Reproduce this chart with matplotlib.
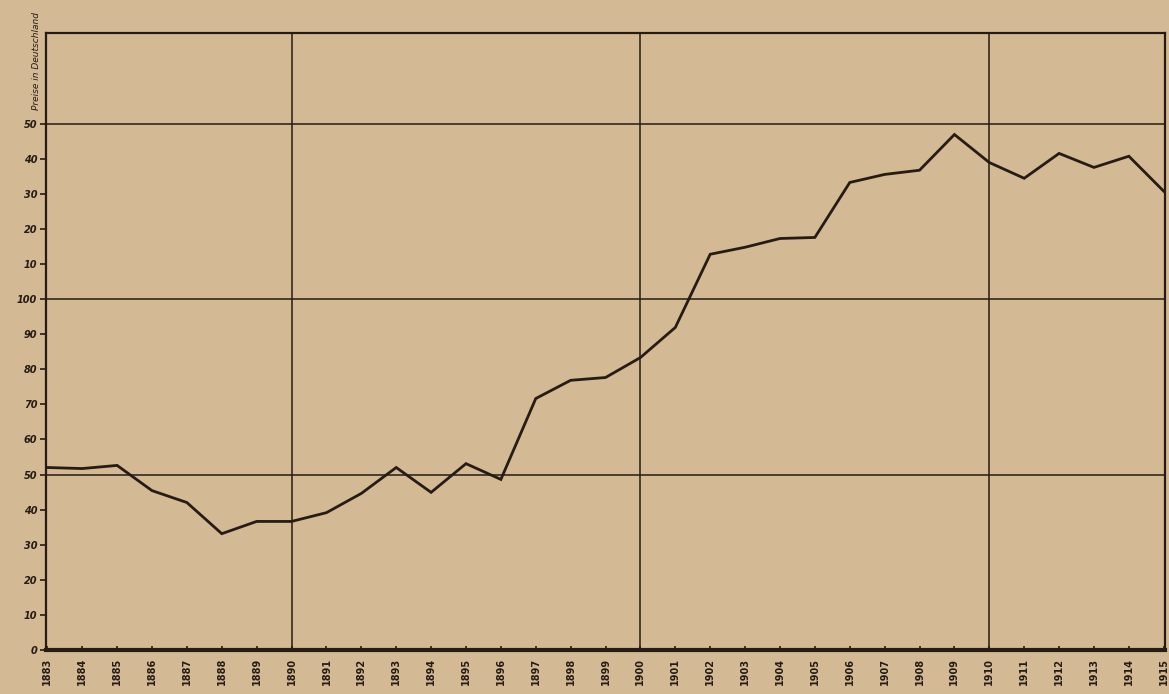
"""Hand-drawn style index chart, 1883-1915."""
import matplotlib.pyplot as plt
import numpy as np

years = list(range(1883, 1916))
values = [52.0, 51.7, 52.6, 45.4, 42.0, 33.1, 36.6, 36.6, 39.1, 44.6,
          52.0, 44.9, 53.1, 48.6, 71.7, 76.9, 77.7, 83.4, 92.0, 112.9,
          114.9, 117.4, 117.7, 133.4, 135.7, 136.9, 147.1, 139.1, 134.6,
          141.7, 137.7, 140.9, 130.9]
y_ticks = list(range(0, 151, 10))
y_tick_labels = ["0", "10", "20", "30", "40", "50", "60", "70", "80", "90",
                 "100", "10", "20", "30", "40", "50"]
x_tick_labels = [str(y) for y in years]
grid_years = [1890, 1900, 1910]
grid_levels = [50, 100, 150]
axis_label = "Preise in Deutschland"

paper = "#d3b994"
ink = "#261c14"

fig = plt.figure(figsize=(11.69, 6.94), dpi=100)
fig.patch.set_facecolor(paper)
ax = fig.add_axes([0.039, 0.064, 0.958, 0.888])
ax.set_facecolor(paper)

for lvl in grid_levels:
    ax.axhline(lvl, color=ink, lw=1.1, zorder=1)
for yr in grid_years:
    ax.axvline(yr, color=ink, lw=1.1, zorder=1)

ax.plot(years, values, color=ink, lw=2.0, solid_joinstyle="miter", zorder=3)

ax.set_xlim(1882.95, 1915.05)
ax.set_ylim(0, 176)

for side in ["left", "top", "right"]:
    ax.spines[side].set_color(ink)
    ax.spines[side].set_linewidth(1.6)
ax.spines["bottom"].set_color(ink)
ax.spines["bottom"].set_linewidth(3.0)

ax.set_yticks(y_ticks)
ax.set_yticklabels(y_tick_labels, fontsize=7, fontweight="bold", color=ink,
                   fontstyle="italic")
ax.set_xticks(years)
ax.set_xticklabels(x_tick_labels, rotation=90, fontsize=7, fontweight="bold",
                   color=ink)
ax.tick_params(axis="y", direction="out", length=4, width=1.2, color=ink, pad=2)
ax.tick_params(axis="x", direction="in", length=3, width=1.2, color=ink, pad=6)

fig.text(0.031, 0.912, axis_label, rotation=90, fontsize=6.5, color=ink,
         fontstyle="italic", ha="center", va="center")

fig.savefig("out.png", dpi=100, facecolor=paper)
plt.close(fig)
